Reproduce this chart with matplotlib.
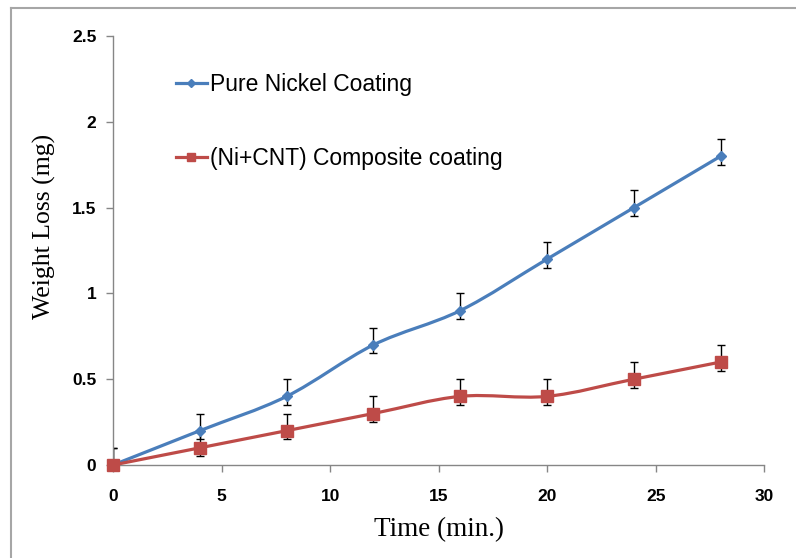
import matplotlib
matplotlib.use("Agg")
import matplotlib.pyplot as plt
from matplotlib.path import Path
from matplotlib.patches import PathPatch
from matplotlib.lines import Line2D
import numpy as np

# Data
time_min = [0, 4, 8, 12, 16, 20, 24, 28]
pure_nickel = [0.0, 0.2, 0.4, 0.7, 0.9, 1.2, 1.5, 1.8]
ni_cnt = [0.0, 0.1, 0.2, 0.3, 0.4, 0.4, 0.5, 0.6]
err_low = [0.05, 0.05, 0.05, 0.05, 0.05, 0.05, 0.05, 0.05]
err_high = [0.1, 0.1, 0.1, 0.1, 0.1, 0.1, 0.1, 0.1]
labels = ["Pure Nickel Coating", "(Ni+CNT) Composite coating"]
x_ticks = [0, 5, 10, 15, 20, 25, 30]
y_ticks = [0, 0.5, 1, 1.5, 2, 2.5]
y_tick_labels = ["0", "0.5", "1", "1.5", "2", "2.5"]

BLUE = "#4A7EBB"
RED = "#BE4B48"
GRAY = "#868686"


def smooth_path(xs, ys):
    """Catmull-Rom style cubic Bezier path through the points."""
    pts = np.column_stack([xs, ys]).astype(float)
    n = len(pts)
    verts = [pts[0]]
    codes = [Path.MOVETO]
    for i in range(n - 1):
        p0 = pts[i - 1] if i > 0 else pts[i]
        p1 = pts[i]
        p2 = pts[i + 1]
        p3 = pts[i + 2] if i + 2 < n else pts[i + 1]
        c1 = p1 + (p2 - p0) / 6.0
        c2 = p2 - (p3 - p1) / 6.0
        verts += [c1, c2, p2]
        codes += [Path.CURVE4] * 3
    return Path(verts, codes)


fig = plt.figure(figsize=(7.96, 5.58), dpi=100)
ax = fig.add_axes([0.142, 0.1667, 0.818, 0.7688])

series = [
    (pure_nickel, BLUE, "D", 5.5),
    (ni_cnt, RED, "s", 8),
]
handles = []
for (vals, color, marker, ms), lab in zip(series, labels):
    ax.add_patch(PathPatch(smooth_path(time_min, vals), facecolor="none",
                           edgecolor=color, lw=2.3, zorder=3))
    ax.errorbar(time_min, vals, yerr=[err_low, err_high], fmt="none",
                ecolor="black", elinewidth=1.0, capsize=3, capthick=1.0,
                zorder=2)
    ax.plot(time_min, vals, linestyle="none", marker=marker, ms=ms,
            color=color, zorder=4, clip_on=False)
    handles.append(Line2D([], [], color=color, lw=2.3, marker=marker,
                          ms=ms * 0.75, label=lab))

ax.set_xlim(0, 30)
ax.set_ylim(0, 2.5)
ax.set_xticks(x_ticks)
ax.set_yticks(y_ticks)
ax.set_yticklabels(y_tick_labels)

for side in ("top", "right"):
    ax.spines[side].set_visible(False)
for side in ("left", "bottom"):
    ax.spines[side].set_color(GRAY)
    ax.spines[side].set_linewidth(1.0)

ax.tick_params(axis="both", direction="out", length=5, width=1.0,
               color=GRAY, labelsize=12.5)
ax.tick_params(axis="x", pad=12)
ax.tick_params(axis="y", pad=7)
for t in ax.get_xticklabels() + ax.get_yticklabels():
    t.set_fontfamily("Liberation Sans")
    t.set_fontweight("bold")

ax.set_xlabel("Time (min.)", fontfamily="Liberation Serif", fontsize=19.5,
              labelpad=10)
ax.set_ylabel("Weight Loss (mg)", fontfamily="Liberation Serif",
              fontsize=18.5)
ax.yaxis.set_label_coords(-0.0876, 0.555)

leg = ax.legend(handles=handles, loc="upper left",
                bbox_to_anchor=(0.065, 0.962), frameon=False,
                prop={"family": "Liberation Sans", "size": 16.5},
                handlelength=1.35, handletextpad=0.13, labelspacing=2.23)

# Chart-area border (top and left edges)
fig.add_artist(Line2D([11 / 796, 1.0], [1 - 7.5 / 558, 1 - 7.5 / 558],
                      transform=fig.transFigure, color="#A6A6A6", lw=1.5))
fig.add_artist(Line2D([11 / 796, 11 / 796], [0, 1 - 7.5 / 558],
                      transform=fig.transFigure, color="#A6A6A6", lw=1.5))

fig.savefig("out.png", dpi=100)
